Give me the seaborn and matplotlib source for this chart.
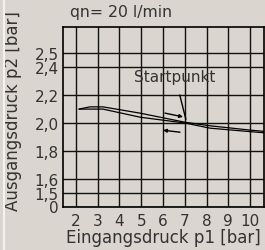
import matplotlib
matplotlib.use("Agg")
import matplotlib.pyplot as plt
from matplotlib.lines import Line2D
import seaborn as sns
import pandas as pd

# data
p1_up = [2.14, 2.64, 3.24, 4.94, 7.0, 8.16, 10.0, 10.64]
p2_up = [2.10, 2.116, 2.116, 2.071, 2.006, 1.98, 1.949, 1.94]
p1_down = [2.14, 3.24, 4.94, 7.0, 8.16, 10.0, 10.64]
p2_down = [2.10, 2.10, 2.042, 2.0, 1.963, 1.938, 1.93]
x_ticks = [2, 3, 4, 5, 6, 7, 8, 9, 10]
y_ticks = [1.4, 1.5, 1.6, 1.8, 2.0, 2.2, 2.4, 2.5]
y_tick_labels = ["0", "1,5", "1,6", "1,8", "2,0", "2,2", "2,4", "2,5"]
title = "qn= 20 l/min"
x_label = "Eingangsdruck p1 [bar]"
y_label = "Ausgangsdruck p2 [bar]"
start_label = "Startpunkt"

bg = "#dad6cf"
txt = "#333333"
sns.set_style("white")
plt.rcParams["font.family"] = ["DejaVu Sans"]

fig = plt.figure(figsize=(2.65, 2.51), dpi=100, facecolor=bg)
ax = fig.add_axes([62.7 / 265, 1 - 207.5 / 251, (264 - 62.7) / 265, (207.5 - 28) / 251])
ax.set_facecolor(bg)

df_up = pd.DataFrame({"p1": p1_up, "p2": p2_up})
df_down = pd.DataFrame({"p1": p1_down, "p2": p2_down})
sns.lineplot(data=df_up, x="p1", y="p2", ax=ax, color="black", lw=0.9, sort=False)
sns.lineplot(data=df_down, x="p1", y="p2", ax=ax, color="black", lw=0.9, sort=False)

ax.set_xlim(1.39, 10.64)
ax.set_ylim(1.402, 2.69)
ax.set_xticks(x_ticks)
ax.set_xticklabels([str(v) for v in x_ticks])
ax.set_yticks(y_ticks)
ax.set_yticklabels(y_tick_labels)
ax.grid(True, color="#111111", lw=1.0)
ax.tick_params(axis="x", length=0, pad=5, labelsize=11, colors=txt)
ax.tick_params(axis="y", length=0, pad=3, labelsize=11, colors=txt)
for s in ax.spines.values():
    s.set_color("black")
    s.set_linewidth(1.2)

ax.set_xlabel(x_label, fontsize=12, color=txt, labelpad=0)
ax.set_ylabel(y_label, fontsize=12, color=txt)
ax.yaxis.set_label_coords(-(62.7 - 13.5) / (264 - 62.7), 0.537)
ax.yaxis.label.set_va("center")
fig.text(121 / 265, 1 - 13 / 251, title, fontsize=11.3, color=txt, ha="center", va="center")

# annotations
ax.annotate(start_label, xy=(7.05, 2.027), xytext=(6.55, 2.337),
            fontsize=11, color=txt, ha="center", va="center",
            arrowprops=dict(arrowstyle="-", color="black", lw=1.0, shrinkA=6, shrinkB=0))
ax.annotate("", xy=(6.92, 2.044), xytext=(6.09, 2.071),
            arrowprops=dict(arrowstyle="-|>", color="black", lw=1.0, mutation_scale=5, shrinkA=0, shrinkB=0))
ax.annotate("", xy=(6.0, 1.948), xytext=(6.78, 1.934),
            arrowprops=dict(arrowstyle="-|>", color="black", lw=1.0, mutation_scale=5, shrinkA=0, shrinkB=0))

fig.add_artist(Line2D([3.5 / 265, 3.5 / 265], [0, 1], color="#f4f2ef", lw=1.5, transform=fig.transFigure))

fig.savefig("out.png", dpi=100, facecolor=bg)
